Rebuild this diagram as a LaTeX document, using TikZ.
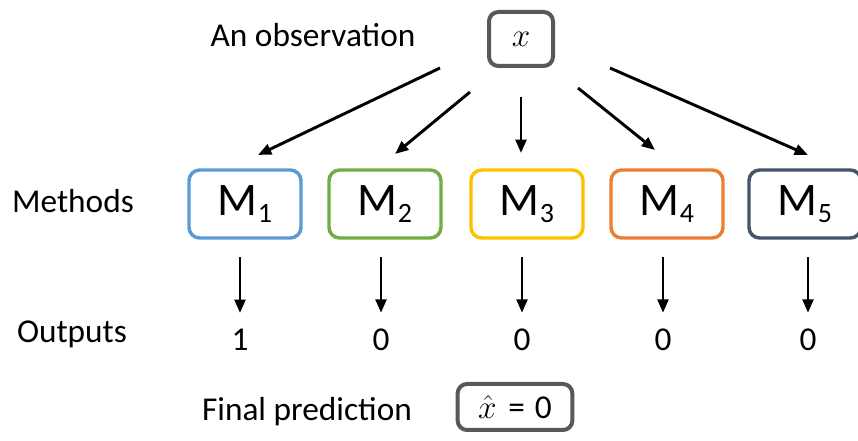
\documentclass[tikz,border=0pt]{standalone}
\usepackage{fontspec}
\setmainfont{Carlito}
\usetikzlibrary{arrows.meta,positioning,calc}

\definecolor{mblue}{HTML}{5B9BD5}
\definecolor{mgreen}{HTML}{70AD47}
\definecolor{myellow}{HTML}{FFC000}
\definecolor{morange}{HTML}{ED7D31}
\definecolor{mnavy}{HTML}{44546A}
\definecolor{boxgray}{HTML}{595959}

\newcommand{\mname}[1]{M\raisebox{-0.14em}{\fontsize{21}{21}\selectfont #1}}

\begin{document}
\begin{tikzpicture}[x=0.75pt,y=-0.75pt,
  lab/.style={font=\fontsize{25}{30}\selectfont},
  mbox/.style={draw=#1,line width=2.6pt,rounded corners=8pt,minimum width=84pt,minimum height=51pt,font=\fontsize{35}{40}\selectfont},
  gbox/.style={draw=boxgray,line width=3pt,rounded corners=7pt},
  arr/.style={line width=2.2pt,-{Triangle[length=10pt,width=8pt]}}]
  \clip (0,0) rectangle (858,441); % 画像の範囲
  \node[lab] (obs) at (313,35) {An observation}; % 観測のラベル
  \node[gbox,minimum width=48pt,minimum height=40.5pt,font=\fontsize{32}{34}\selectfont] (xin) at (521,39) {$x$}; % 入力
  \node[lab] (meth) at (73,201) {Methods}; % 手法のラベル
  \node[mbox=mblue] (m1) at (245,204) {\mname{1}}; % 手法1
  \node[mbox=mgreen] (m2) at (385,204) {\mname{2}}; % 手法2
  \node[mbox=myellow] (m3) at (527,204) {\mname{3}}; % 手法3
  \node[mbox=morange] (m4) at (667,204) {\mname{4}}; % 手法4
  \node[mbox=mnavy] (m5) at (805,204) {\mname{5}}; % 手法5（右端で切れる）
  \node[lab] (outs) at (72,334) {Outputs}; % 出力のラベル
  \node[lab,inner sep=0pt] (o1) at (240,340) {1}; % 出力1
  \node[lab,inner sep=0pt] (o2) at (381,340) {0}; % 出力2
  \node[lab,inner sep=0pt] (o3) at (522,340) {0}; % 出力3
  \node[lab,inner sep=0pt] (o4) at (663,340) {0}; % 出力4
  \node[lab,inner sep=0pt] (o5) at (808,340) {0}; % 出力5
  \node[lab] (fin) at (307,412) {Final prediction}; % 最終予測のラベル
  \node[gbox,lab,minimum width=86pt,minimum height=34.5pt] (pred) at (515,407) {$\hat{x}$\hspace{0.35em}=\hspace{0.3em}0}; % 最終予測
  \coordinate (s1) at (440,68); \coordinate (t1) at (258,155); % 入力→手法1
  \coordinate (s2) at (470,92); \coordinate (t2) at (395,154); % 入力→手法2
  \coordinate (s3) at (521,97); \coordinate (t3) at (521,153); % 入力→手法3
  \coordinate (s4) at (578,88); \coordinate (t4) at (655,150); % 入力→手法4
  \coordinate (s5) at (610,68); \coordinate (t5) at (808,155); % 入力→手法5
  \foreach \i in {1,...,5}{
    \draw[arr] (s\i) -- (t\i); % 上段の矢印
    \draw[arr,shorten <=13pt,shorten >=12pt] (m\i.south -| o\i) -- (o\i.north); % 下段の矢印
  }
\end{tikzpicture}
\end{document}
